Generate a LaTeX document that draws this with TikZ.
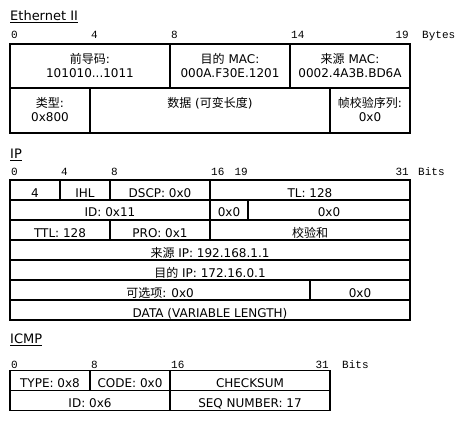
\documentclass[tikz,border=0pt]{standalone}
\usepackage{fontspec}
\setmainfont{DejaVu Sans}
\newfontfamily\cjk{Noto Sans CJK SC}
\newfontfamily\rulerfont{Liberation Mono}
\tikzset{
	cell/.style={font=\fontsize{12}{13.5}\selectfont,inner sep=0pt,anchor=base,align=center},
	ruler/.style={font=\rulerfont\fontsize{11}{11}\selectfont,inner sep=0pt,anchor=base west},
	rulerend/.style={ruler,anchor=base east},
	title/.style={font=\fontsize{13}{13}\selectfont,inner sep=0pt,anchor=base west},
	boxline/.style={line width=1.2pt},
	sepline/.style={line width=1.8pt},
}
\begin{document}
\begin{tikzpicture}[x=1pt,y=-1pt]
	\useasboundingbox (0,0) rectangle (471,422);
	% Ethernet II
	\node[title] (ethtitle) at (10,21) {\underline{Ethernet II}};
	\node[ruler] (eth0) at (11,39) {0};
	\node[ruler] (eth4) at (91,39) {4};
	\node[ruler] (eth8) at (171,39) {8};
	\node[ruler] (eth14) at (291,39) {14};
	\node[rulerend] (eth19) at (409,39) {19};
	\node[ruler] (ethunit) at (422,39) {Bytes};
	\node[cell] (preamble) at (90,77.5) {{\cjk 前导码}:\\101010...1011};
	\node[cell] (dstmac) at (230,77.5) {{\cjk 目的} MAC:\\000A.F30E.1201};
	\node[cell] (srcmac) at (350,77.5) {{\cjk 来源} MAC:\\0002.4A3B.BD6A};
	\node[cell] (ethtype) at (50,121.5) {{\cjk 类型}:\\0x800};
	\node[cell] (ethdata) at (210,108) {{\cjk 数据} ({\cjk 可变长度})};
	\node[cell] (fcs) at (370,121.5) {{\cjk 帧校验序列}:\\0x0};
	\draw[sepline] (10,88)--(410,88);
	\draw[sepline] (170,44)--(170,88) (290,44)--(290,88);
	\draw[sepline] (90,88)--(90,133) (330,88)--(330,133);
	\draw[boxline] (10,44) rectangle (410,133);
	% IP
	\node[title] (iptitle) at (10,158.5) {\underline{IP}};
	\node[ruler] (ip0) at (11,176) {0};
	\node[ruler] (ip4) at (61,176) {4};
	\node[ruler] (ip8) at (111,176) {8};
	\node[ruler] (ip16) at (211,176) {16};
	\node[rulerend] (ip19) at (248,176) {19};
	\node[rulerend] (ip31) at (409,176) {31};
	\node[ruler] (ipunit) at (418,176) {Bits};
	\node[cell] (version) at (35,197) {4};
	\node[cell] (ihl) at (85,197) {IHL};
	\node[cell] (dscp) at (160,197) {DSCP: 0x0};
	\node[cell] (tl) at (310,197) {TL: 128};
	\node[cell] (ipid) at (110,217) {ID: 0x11};
	\node[cell] (flags) at (229,217) {0x0};
	\node[cell] (offset) at (329,217) {0x0};
	\node[cell] (ttl) at (60,237) {TTL: 128};
	\node[cell] (proto) at (160,237) {PRO: 0x1};
	\node[cell] (ipsum) at (310,237) {{\cjk 校验和}};
	\node[cell] (srcip) at (210,257) {{\cjk 来源} IP: 192.168.1.1};
	\node[cell] (dstip) at (210,277) {{\cjk 目的} IP: 172.16.0.1};
	\node[cell] (options) at (160,297) {{\cjk 可选项}: 0x0};
	\node[cell] (padding) at (360,297) {0x0};
	\node[cell] (ipdata) at (210,317) {DATA (VARIABLE LENGTH)};
	\foreach \y in {200,220,...,300}
		\draw[sepline] (10,\y)--(410,\y);
	\draw[sepline] (60,180)--(60,200) (110,180)--(110,200) (210,180)--(210,200);
	\draw[sepline] (210,200)--(210,220) (248,200)--(248,220);
	\draw[sepline] (110,220)--(110,240) (210,220)--(210,240);
	\draw[sepline] (310,280)--(310,300);
	\draw[boxline] (10,180) rectangle (410,320);
	% ICMP
	\node[title] (icmptitle) at (10,343.3) {\underline{ICMP}};
	\node[ruler] (icmp0) at (11,368.5) {0};
	\node[ruler] (icmp8) at (91,368.5) {8};
	\node[ruler] (icmp16) at (171,368.5) {16};
	\node[rulerend] (icmp31) at (329,368.5) {31};
	\node[ruler] (icmpunit) at (342,368.5) {Bits};
	\node[cell] (icmptype) at (50,387.5) {TYPE: 0x8};
	\node[cell] (icmpcode) at (130,387.5) {CODE: 0x0};
	\node[cell] (icmpsum) at (250,387.5) {CHECKSUM};
	\node[cell] (icmpid) at (90,407.5) {ID: 0x6};
	\node[cell] (seq) at (250,407.5) {SEQ NUMBER: 17};
	\draw[sepline] (10,390.5)--(330,390.5);
	\draw[sepline] (90,370.5)--(90,390.5) (170,370.5)--(170,410.5);
	\draw[boxline] (10,370.5) rectangle (330,410.5);
\end{tikzpicture}
\end{document}
